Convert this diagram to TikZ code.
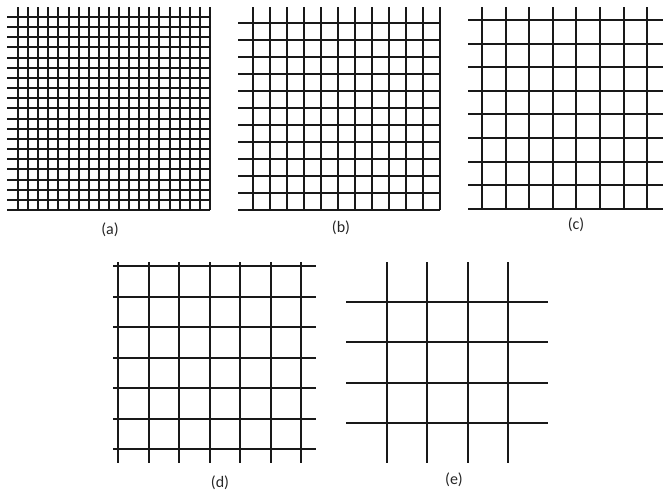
\documentclass[tikz,border=0pt]{standalone}
\usepackage{fontspec}
\setmainfont{Carlito}
\usetikzlibrary{positioning}

\begin{document}
\begin{tikzpicture}[x=1pt, y=-1pt]
  \tikzstyle{wire} = [line width=2pt, black!90]
  \tikzstyle{caption} = [font=\fontsize{16}{18}\selectfont, text=black!85, inner sep=0pt]
  \useasboundingbox (0,0) rectangle (663,496);
  % (a)
  \foreach \i [evaluate=\i as \p using {round(18+10.1*\i)},
               evaluate=\i as \q using {round(17+10.16*\i)}] in {0,...,19} {
    \draw [wire] (\p,7) -- (\p,210);
    \draw [wire] (7,\q) -- (210,\q);
  }
  % (b)
  \foreach \i [evaluate=\i as \p using {round(253+17*\i)},
               evaluate=\i as \q using {round(23+17*\i)}] in {0,...,11} {
    \draw [wire] (\p,7) -- (\p,210);
    \draw [wire] (238,\q) -- (440,\q);
  }
  % (c)
  \foreach \i [evaluate=\i as \p using {round(482+23.6*\i)}] in {0,...,7}
    \draw [wire] (\p,7) -- (\p,209);
  \foreach \i [evaluate=\i as \q using {round(20+23.6*\i)}] in {0,...,8}
    \draw [wire] (468,\q) -- (663,\q);
  % (d)
  \foreach \i [evaluate=\i as \p using {round(118+30.5*\i)},
               evaluate=\i as \q using {round(266+30.5*\i)}] in {0,...,6} {
    \draw [wire] (\p,262) -- (\p,463);
    \draw [wire] (113,\q) -- (316,\q);
  }
  % (e)
  \foreach \i [evaluate=\i as \p using {round(387+40.3*\i)},
               evaluate=\i as \q using {round(302+40.3*\i)}] in {0,...,3} {
    \draw [wire] (\p,262) -- (\p,463);
    \draw [wire] (346,\q) -- (548,\q);
  }
  \node [caption] (capa) at (110,230) {(a)};
  \node [caption] (capb) at (341,228) {(b)};
  \node [caption] (capc) at (576,225) {(c)};
  \node [caption] (capd) at (220,483) {(d)};
  \node [caption] (cape) at (454,480) {(e)};
\end{tikzpicture}
\end{document}
